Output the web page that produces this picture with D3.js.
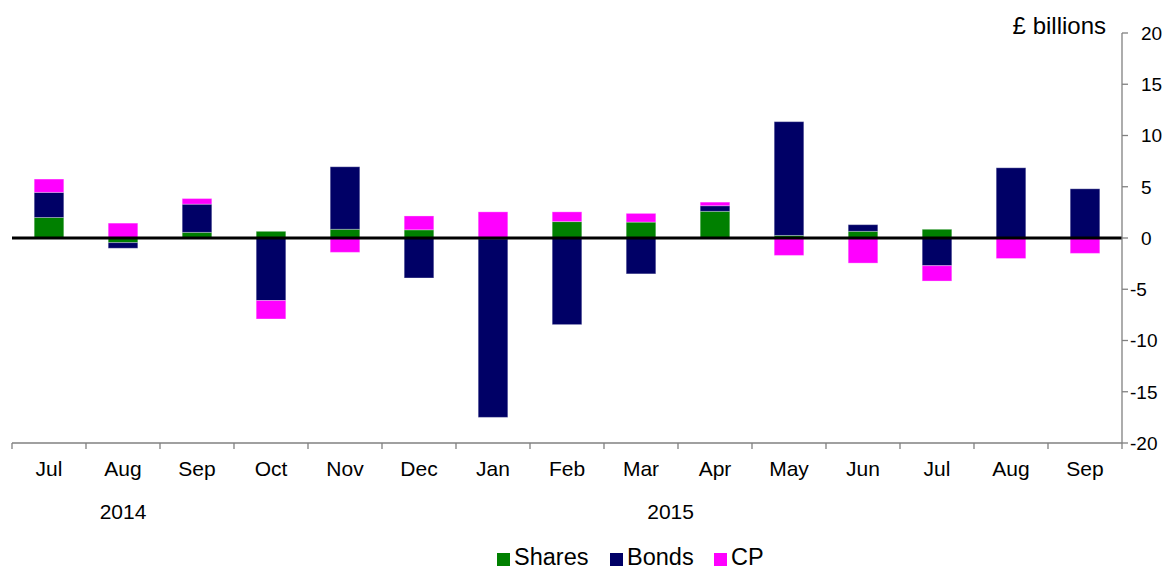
<!DOCTYPE html>
<html><head><meta charset="utf-8">
<script src="https://cdn.jsdelivr.net/npm/d3@7/dist/d3.min.js"></script>
<style>
body{margin:0;background:#fff;}
svg{display:block;font-family:"Liberation Sans",Arial,sans-serif;}
</style></head>
<body><svg id="c" width="1174" height="569"></svg>
<script>
const months = ["Jul","Aug","Sep","Oct","Nov","Dec","Jan","Feb","Mar","Apr","May","Jun","Jul","Aug","Sep"];
const shares = [2.0,-0.45,0.55,0.65,0.85,0.8,-0.1,1.6,1.55,2.6,0.25,0.65,0.85,0,0];
const bonds  = [2.45,-0.55,2.75,-6.1,6.1,-3.9,-17.4,-8.45,-3.5,0.55,11.1,0.65,-2.7,6.85,4.8];
const cp     = [1.3,1.45,0.55,-1.8,-1.4,1.35,2.55,0.95,0.85,0.35,-1.7,-2.45,-1.5,-2.0,-1.5];
const yTicks = [-20,-15,-10,-5,0,5,10,15,20];
const years = [{label:"2014", pos:1}, {label:"2015", pos:8.4}];
const seriesNames = ["Shares","Bonds","CP"];
const colors = ["#008000","#000066","#ff00ff"];

const svg = d3.select("#c");
const L = 12, R = 1122, T = 33, B = 443;
const idx = months.map((m,i)=>i);
const x = d3.scaleBand().domain(idx).range([L,R]).padding(0);
const y = d3.scaleLinear().domain([-20,20]).range([B,T]);

const rows = idx.map(i=>({i, Shares:shares[i], Bonds:bonds[i], CP:cp[i]}));
const stack = d3.stack().keys(seriesNames).offset(d3.stackOffsetDiverging)(rows);
const bw = x.bandwidth()*0.4;

svg.append("g").selectAll("g").data(stack).join("g")
  .attr("fill",(d,k)=>colors[k])
  .selectAll("rect").data(d=>d).join("rect")
  .attr("x",d=>x(d.data.i)+x.bandwidth()/2-bw/2)
  .attr("width",bw)
  .attr("y",d=>y(Math.max(d[0],d[1])))
  .attr("height",d=>Math.abs(y(d[0])-y(d[1])))
  .attr("stroke","#fff").attr("stroke-opacity",0.3).attr("stroke-width",1);

// zero line
svg.append("line").attr("x1",L).attr("x2",R).attr("y1",y(0)).attr("y2",y(0))
  .attr("stroke","#000").attr("stroke-width",2.8);

// x axis
const xAxis = svg.append("g");
xAxis.append("line").attr("x1",L).attr("x2",R).attr("y1",B).attr("y2",B).attr("stroke","#808080").attr("stroke-width",1.3);
xAxis.selectAll("line.t").data(d3.range(months.length+1)).join("line").attr("class","t")
  .attr("x1",d=>L+d*x.step()).attr("x2",d=>L+d*x.step())
  .attr("y1",B).attr("y2",B+6).attr("stroke","#808080").attr("stroke-width",1.3);
xAxis.selectAll("text").data(idx).join("text")
  .attr("x",d=>x(d)+x.bandwidth()/2).attr("y",476)
  .attr("text-anchor","middle").attr("font-size",21).attr("fill","#000")
  .text(d=>months[d]);
svg.selectAll("text.yr").data(years).join("text").attr("class","yr")
  .attr("x",d=>L+(d.pos+0.5)*x.step()).attr("y",519)
  .attr("text-anchor","middle").attr("font-size",21).text(d=>d.label);

// y axis (right)
const yAxis = svg.append("g");
yAxis.append("line").attr("x1",R).attr("x2",R).attr("y1",T).attr("y2",B).attr("stroke","#808080").attr("stroke-width",1.3);
yAxis.selectAll("line.t").data(yTicks).join("line").attr("class","t")
  .attr("x1",R).attr("x2",R+6).attr("y1",d=>y(d)).attr("y2",d=>y(d))
  .attr("stroke","#808080").attr("stroke-width",1.3);
yAxis.selectAll("text").data(yTicks).join("text")
  .attr("x",d=>d<0?R+8:R+19).attr("y",d=>y(d)).attr("dy","0.36em")
  .attr("font-size",19).attr("fill","#000").text(d=>d);

svg.append("text").attr("x",1106).attr("y",34).attr("text-anchor","end")
  .attr("font-size",24).text("£ billions");

// legend
const leg = svg.append("g");
const legX = [497,610,714];
seriesNames.forEach((s,k)=>{
  leg.append("rect").attr("x",legX[k]).attr("y",553).attr("width",13).attr("height",13).attr("fill",colors[k]);
  leg.append("text").attr("x",legX[k]+17).attr("y",565).attr("font-size",23.5).text(s);
});
</script></body></html>
